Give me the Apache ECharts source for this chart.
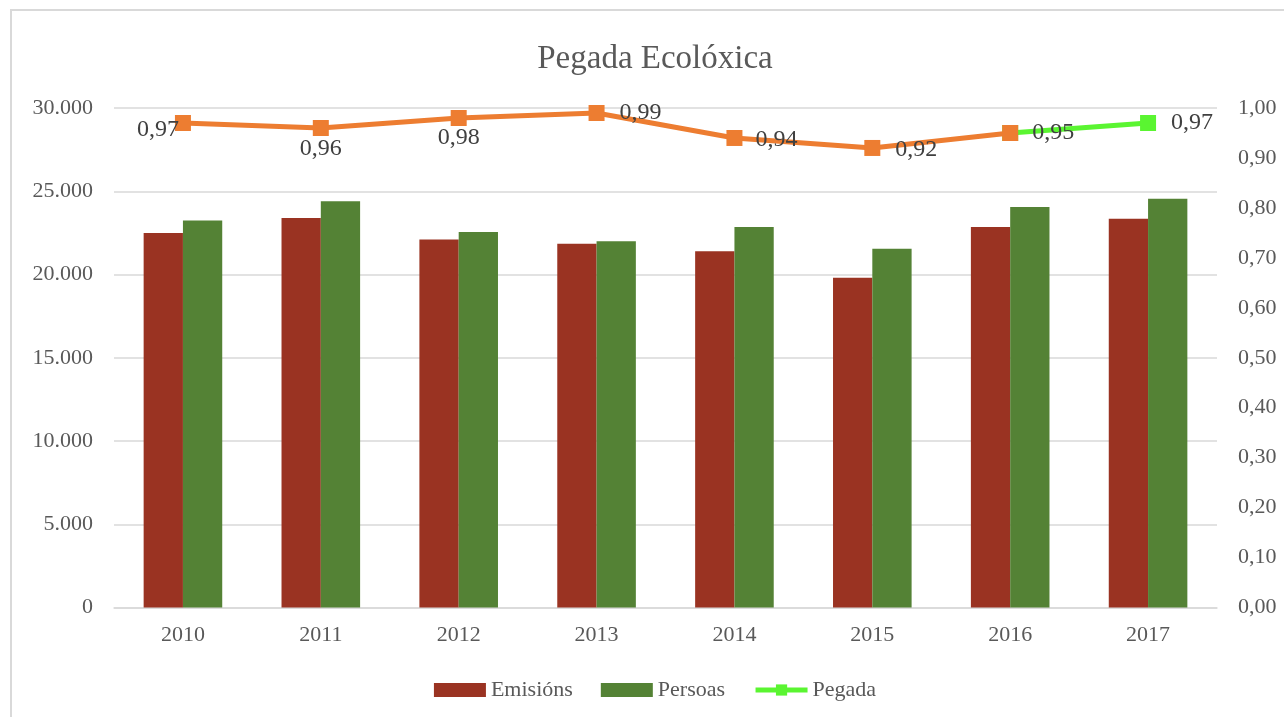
<!DOCTYPE html>
<html>
<head>
<meta charset="utf-8">
<script src="https://cdn.jsdelivr.net/npm/echarts@6/dist/echarts.min.js"></script>
<style>
  html, body { margin: 0; padding: 0; overflow: hidden; background: #fff; width: 1284px; height: 717px; }
  #frame { position: absolute; left: 10px; top: 9px; width: 1286px; height: 720px; border: 2px solid #d9d9d9; background: #fff; }
  #chart { width: 1286px; height: 720px; }
</style>
</head>
<body>
<div id="frame"><div id="chart"></div></div>
<script>
// Yearly figures
const years = ['2010', '2011', '2012', '2013', '2014', '2015', '2016', '2017'];
const emisions = [22500, 23400, 22100, 21850, 21400, 19800, 22850, 23350];
const persoas = [23250, 24400, 22550, 22000, 22850, 21550, 24050, 24550];
const pegada = [0.97, 0.96, 0.98, 0.99, 0.94, 0.92, 0.95, 0.97];

// Axis ranges
const leftMax = 30000, leftStep = 5000;
const rightMax = 1, rightStep = 0.1;

// Index from which the footprint line switches to the bright green colour
const greenFrom = 6;

const FONT = 'Liberation Serif';
const AXIS_GREY = '#595959';
const GRID_GREY = '#d9d9d9';
const ORANGE = '#ED7D31';
const BRIGHT = '#5AF531';

// Where each footprint value label sits relative to its marker
const labelPlacement = [
  { position: 'left', distance: 0, offset: [4, 7] },
  { position: 'bottom', distance: 1 },
  { position: 'bottom', distance: 0 },
  { position: 'right', distance: 15, offset: [0, 0] },
  { position: 'right', distance: 13, offset: [0, 2] },
  { position: 'right', distance: 15, offset: [0, 2] },
  { position: 'right', distance: 14, offset: [0, 0] },
  { position: 'right', distance: 15, offset: [0, 0] }
];

const comma = (v, d) => v.toFixed(d).replace('.', ',');
const thousands = v => v === 0 ? '0' : String(v).replace(/\B(?=(\d{3})+(?!\d))/g, '.');

const orangeData = pegada.map((v, i) => i <= greenFrom
  ? { value: v, label: Object.assign({ show: true }, labelPlacement[i]) }
  : '-');
const greenData = pegada.map((v, i) => i >= greenFrom
  ? { value: v, label: Object.assign({ show: i > greenFrom }, labelPlacement[i]) }
  : '-');

const lineLabel = {
  show: true,
  fontFamily: FONT,
  fontSize: 24,
  color: '#404040',
  formatter: p => comma(p.value, 2)
};

const axisText = { fontFamily: FONT, fontSize: 22, color: AXIS_GREY };

const chart = echarts.init(document.getElementById('chart'), null, { renderer: 'canvas' });
chart.setOption({
  animation: false,
  backgroundColor: '#fff',
  title: {
    text: 'Pegada Ecolóxica',
    left: 'center',
    top: 27,
    textStyle: { fontFamily: FONT, fontSize: 33, fontWeight: 'normal', color: '#595959' }
  },
  legend: {
    data: [
      { name: 'Emisións', icon: 'rect' },
      { name: 'Persoas', icon: 'rect' },
      { name: 'Pegada', lineStyle: { width: 5, color: BRIGHT }, itemStyle: { color: BRIGHT } }
    ],
    left: 'center',
    top: 663,
    itemWidth: 52,
    itemHeight: 14,
    itemGap: 28,
    textStyle: { fontFamily: FONT, fontSize: 22, color: AXIS_GREY }
  },
  grid: { left: 102, right: 81, top: 97, bottom: 123.5, containLabel: false },
  xAxis: {
    type: 'category',
    data: years,
    axisLine: { lineStyle: { color: GRID_GREY, width: 1.5 } },
    axisTick: { show: false },
    axisLabel: Object.assign({ margin: 17 }, axisText)
  },
  yAxis: [
    {
      type: 'value',
      min: 0, max: leftMax, interval: leftStep,
      axisLine: { show: false },
      axisTick: { show: false },
      splitLine: { lineStyle: { color: GRID_GREY, width: 1.5 } },
      axisLabel: Object.assign({ margin: 21, formatter: thousands }, axisText)
    },
    {
      type: 'value',
      min: 0, max: rightMax, interval: rightStep,
      axisLine: { show: false },
      axisTick: { show: false },
      splitLine: { show: false },
      axisLabel: Object.assign({ margin: 21, formatter: v => comma(v, 2) }, axisText)
    }
  ],
  series: [
    {
      name: 'Emisións',
      type: 'bar',
      data: emisions,
      barGap: '0%',
      barCategoryGap: '43%',
      itemStyle: { color: '#9A3322' }
    },
    {
      name: 'Persoas',
      type: 'bar',
      data: persoas,
      barGap: '0%',
      barCategoryGap: '43%',
      itemStyle: { color: '#548235' }
    },
    {
      name: 'Pegada',
      type: 'line',
      yAxisIndex: 1,
      data: greenData,
      symbol: 'rect',
      symbolSize: 16,
      lineStyle: { color: BRIGHT, width: 5 },
      itemStyle: { color: BRIGHT },
      label: lineLabel,
      z: 3
    },
    {
      name: 'Pegada 2010–2016',
      type: 'line',
      yAxisIndex: 1,
      data: orangeData,
      symbol: 'rect',
      symbolSize: 16,
      lineStyle: { color: ORANGE, width: 5 },
      itemStyle: { color: ORANGE },
      label: lineLabel,
      z: 4
    }
  ]
});
</script>
</body>
</html>
